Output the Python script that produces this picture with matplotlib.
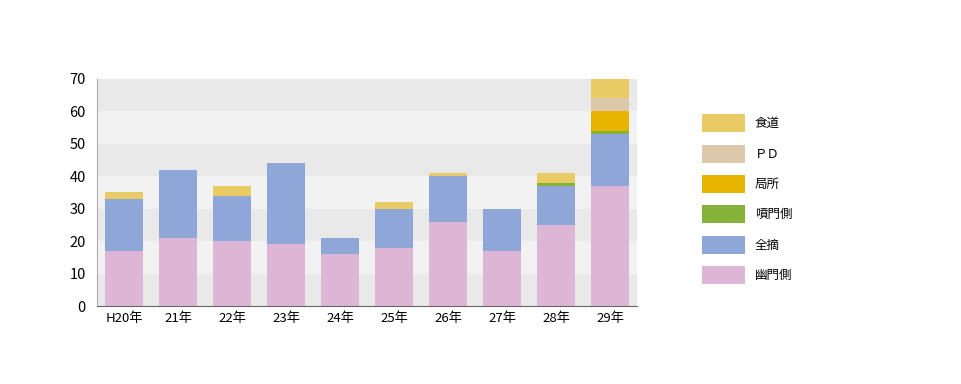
import matplotlib
matplotlib.use('Agg')
import matplotlib.pyplot as plt
from matplotlib.patches import Patch
import numpy as np

plt.rcParams['font.family'] = ['Noto Sans CJK JP', 'DejaVu Sans']

# data
years = ['H20年', '21年', '22年', '23年', '24年', '25年', '26年', '27年', '28年', '29年']
yumon = [17, 21, 20, 19, 16, 18, 26, 17, 25, 37]   # 幽門側
zenteki = [16, 21, 14, 25, 5, 12, 14, 13, 12, 16]  # 全摘
funmon = [0, 0, 0, 0, 0, 0, 0, 0, 1, 1]            # 噴門側
kyokusho = [0, 0, 0, 0, 0, 0, 0, 0, 0, 6]          # 局所
pd_ = [0, 0, 0, 0, 0, 0, 0, 0, 0, 4]               # ＰＤ
shokudo = [2, 0, 3, 0, 0, 2, 1, 0, 3, 6]           # 食道

series = [('幽門側', yumon, '#DDB6D6'),
          ('全摘', zenteki, '#8FA7D8'),
          ('噴門側', funmon, '#85B33A'),
          ('局所', kyokusho, '#E8B400'),
          ('ＰＤ', pd_, '#DCC8AA'),
          ('食道', shokudo, '#E8CB65')]

fig = plt.figure(figsize=(9.62, 3.84), dpi=100)
ax = fig.add_axes([97/962, 78/384, 540/962, 227/384])

# background bands
for i in range(7):
    ax.axhspan(i*10, (i+1)*10, color='#E9E9E9' if i % 2 == 0 else '#F2F2F2', lw=0, zorder=0)

x = np.arange(len(years))
bottom = np.zeros(len(years))
handles = []
for name, vals, col in series:
    ax.bar(x, vals, 0.72, bottom=bottom, color=col, zorder=2, lw=0)
    bottom += np.array(vals)
    handles.append(Patch(facecolor=col, label=name))

ax.set_xlim(-0.5, len(years) - 0.5)
ax.set_ylim(0, 70)
ax.set_yticks(range(0, 71, 10))
ax.set_xticks(x)
ax.set_xticklabels(years, fontsize=9.5)
ax.tick_params(axis='y', labelsize=10.5, length=0, pad=8)
ax.tick_params(axis='x', length=0, pad=4)
for s in ['top', 'right']:
    ax.spines[s].set_visible(False)
ax.spines['left'].set_color('#AAAAAA')
ax.spines['bottom'].set_color('#666666')

fig.legend(handles=handles[::-1], loc='upper left', bbox_to_anchor=(691/962, 1 - 103/384),
           frameon=False, fontsize=9, handlelength=3.4, handleheight=1.85,
           labelspacing=0.98, handletextpad=0.8)

plt.savefig('out.png')
